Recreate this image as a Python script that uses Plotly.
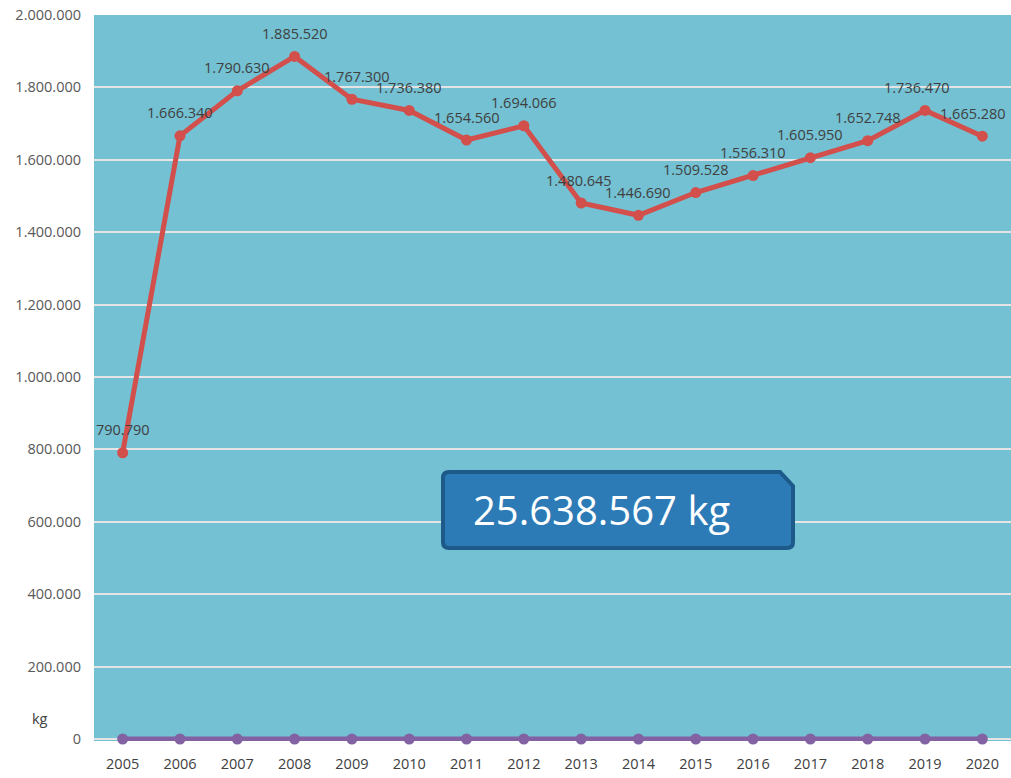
import plotly.graph_objects as go

years = ["2005", "2006", "2007", "2008", "2009", "2010", "2011", "2012",
         "2013", "2014", "2015", "2016", "2017", "2018", "2019", "2020"]
amounts = [790790, 1666340, 1790630, 1885520, 1767300, 1736380, 1654560, 1694066,
           1480645, 1446690, 1509528, 1556310, 1605950, 1652748, 1736470, 1665280]
zeros = [0] * len(years)
total_label = "25.638.567 kg"
y_ticks = [0, 200000, 400000, 600000, 800000, 1000000, 1200000, 1400000,
           1600000, 1800000, 2000000]

# label horizontal nudges (pixels) – styling only
label_dx = [0, 0, 0, 0, 5, 0, 0, 0, -2, 0, 0, 0, 0, 0, -8, -9]


def fmt(v):
    return f"{v:,}".replace(",", ".")


fig = go.Figure()
fig.add_trace(go.Scatter(
    x=years, y=amounts, mode="lines+markers",
    line=dict(color="#D24F4C", width=5),
    marker=dict(color="#D24F4C", size=11),
    hoverinfo="skip", showlegend=False, cliponaxis=False,
))
fig.add_trace(go.Scatter(
    x=years, y=zeros, mode="lines+markers",
    line=dict(color="#8362A3", width=5),
    marker=dict(color="#8362A3", size=11),
    hoverinfo="skip", showlegend=False, cliponaxis=False,
))

for i, v in enumerate(amounts):
    fig.add_annotation(x=i, y=v, text=fmt(v), showarrow=False, yshift=23,
                       xshift=label_dx[i],
                       font=dict(family="Open Sans", size=14.5, color="#404040"))

# total box (paper coords, plot area spans y 15..741)
H = 726.0
W = 917.0
def px(x):
    return (x - 94) / W
def py(y):
    return (741 - y) / H

x0, x1, y0, y1 = px(443), px(793), py(548), py(472)
rx, ry = 6 / W, 6 / H
cx, cy = 13 / W, 14 / H
path = (f"M {x0+rx},{y0} L {x1-rx},{y0} Q {x1},{y0} {x1},{y0+ry} "
        f"L {x1},{y1-cy} L {x1-cx},{y1} L {x0+rx},{y1} Q {x0},{y1} {x0},{y1-ry} "
        f"L {x0},{y0+ry} Q {x0},{y0} {x0+rx},{y0} Z")
fig.add_shape(type="path", path=path, xref="paper", yref="paper",
              fillcolor="#2C7BB6", line=dict(color="#1D5A8A", width=4), layer="above")
fig.add_annotation(xref="paper", yref="paper", x=px(471), y=(y0 + y1) / 2,
                   xanchor="left", yanchor="middle", text=total_label, showarrow=False,
                   font=dict(family="Open Sans", size=40, color="white"))

fig.add_annotation(xref="paper", yref="paper", x=px(40), y=py(718), text="kg",
                   showarrow=False, xanchor="center", yanchor="middle",
                   font=dict(family="Open Sans", size=14.5, color="#404040"))

fig.update_layout(
    width=1011, height=778,
    margin=dict(l=94, r=0, t=15, b=37),
    paper_bgcolor="white", plot_bgcolor="#73C1D2",
    xaxis=dict(type="category", range=[-0.5, 15.5], showgrid=False, zeroline=False,
               showline=False, ticks="", ticklabelstandoff=12,
               tickfont=dict(family="Open Sans", size=14.5, color="#404040")),
    yaxis=dict(range=[-5500, 2000000], tickvals=y_ticks, ticktext=[fmt(t) for t in y_ticks],
               showgrid=True, gridcolor="#E4E4E4", gridwidth=2, zeroline=False,
               showline=False, ticks="", ticklabelstandoff=12,
               tickfont=dict(family="Open Sans", size=14.5, color="#595959")),
)

fig.write_html("out.html", config={"displayModeBar": False},
               post_script="document.body.style.margin='0';document.body.style.overflow='hidden';")
